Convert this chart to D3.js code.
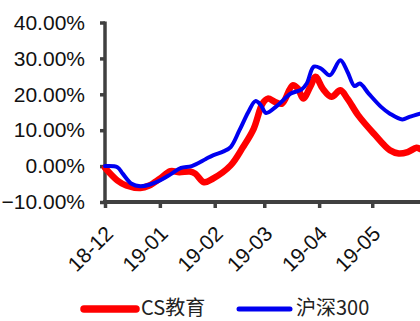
<!DOCTYPE html>
<html><head><meta charset="utf-8">
<script src="https://cdn.jsdelivr.net/npm/d3@7"></script>
<style>html,body{margin:0;padding:0;background:#fff;}svg{display:block;}</style>
</head><body>
<svg id="c" width="420" height="321"></svg>
<script>
const seriesNames = ["CS教育", "沪深300"];
const csDates = ["2018-12-01","2018-12-08","2018-12-13","2018-12-21","2018-12-26","2019-01-01","2019-01-07","2019-01-12","2019-01-18","2019-01-21","2019-01-26","2019-01-31","2019-02-10","2019-02-17","2019-02-23","2019-02-28","2019-03-03","2019-03-07","2019-03-11","2019-03-17","2019-03-20","2019-03-23","2019-03-27","2019-03-30","2019-04-03","2019-04-08","2019-04-13","2019-04-17","2019-04-23","2019-05-02","2019-05-11","2019-05-16","2019-05-21","2019-05-26","2019-05-28"];
const csValues = [-0.5,-4.0,-5.4,-6.1,-5.4,-3.5,-1.4,-1.7,-1.5,-2.1,-4.5,-3.5,0.2,5.3,10.4,17.4,18.8,17.9,17.4,22.5,21.6,18.8,22.1,24.9,21.6,19.3,21.1,18.8,14.2,9.0,4.4,3.5,3.9,5.1,4.8];
const hsDates = ["2018-12-01","2018-12-08","2018-12-11","2018-12-16","2018-12-21","2018-12-26","2019-01-01","2019-01-07","2019-01-13","2019-01-19","2019-01-27","2019-01-31","2019-02-06","2019-02-10","2019-02-15","2019-02-20","2019-02-24","2019-02-27","2019-03-02","2019-03-08","2019-03-16","2019-03-22","2019-03-25","2019-03-29","2019-04-02","2019-04-07","2019-04-13","2019-04-17","2019-04-21","2019-04-24","2019-04-29","2019-05-06","2019-05-11","2019-05-18","2019-05-22","2019-05-28"];
const hsValues = [0,-0.3,-2.1,-4.9,-5.6,-5.2,-4.0,-2.3,-0.5,0,2.0,3.0,4.1,5.3,10,15.1,18.1,17.0,14.8,16.7,20.2,21.3,23.0,27.7,27.2,25.3,29.5,26.3,22.3,23.0,20.2,16.5,14.6,13.0,13.7,14.6];
const yTicks = [-10,0,10,20,30,40];
const xTickDates = ["2018-12-01","2019-01-01","2019-02-01","2019-03-01","2019-04-01","2019-05-01"];

const parse = d3.timeParse("%Y-%m-%d");
const svg = d3.select("#c");
const x = d3.scaleTime().domain([parse("2018-12-01"), parse("2019-05-28")]).range([105, 420]);
const y = d3.scaleLinear().domain([-10, 40]).range([202, 22.5]);

const axisColor = "#404040";
// y axis
const yAxis = d3.axisLeft(y).tickValues(yTicks).tickSize(5).tickPadding(15)
  .tickFormat(d => d3.format(".2f")(d) + "%");
const gy = svg.append("g").attr("transform", "translate(105,0)").call(yAxis);
gy.select(".domain").attr("stroke", axisColor).attr("stroke-width", 3.5).attr("d", "M0," + (y(40)-1) + "V" + y(-10));
gy.selectAll(".tick line").attr("stroke", axisColor).attr("stroke-width", 3.5);
gy.selectAll(".tick text").attr("fill", "#111").style("font-family", "'Liberation Sans', Arial, sans-serif").style("font-size", "21px");

// x axis
const xAxis = d3.axisBottom(x).tickValues(xTickDates.map(parse)).tickSize(6)
  .tickFormat(d3.timeFormat("%y-%m"));
const gx = svg.append("g").attr("transform", "translate(0,202)").call(xAxis);
gx.select(".domain").attr("stroke", axisColor).attr("stroke-width", 4).attr("d", "M103,0H420");
gx.selectAll(".tick line").attr("stroke", axisColor).attr("stroke-width", 3.5);
gx.selectAll(".tick text").attr("fill", "#111")
  .style("font-family", "'Liberation Sans', Arial, sans-serif").style("font-size", "21px")
  .attr("text-anchor", "end").attr("dy", null).attr("y", 0)
  .attr("transform", "translate(9,33) rotate(-45)");

// lines
const line = d3.line().x(d => x(d[0])).y(d => y(d[1])).curve(d3.curveCatmullRom.alpha(0.5));
const csData = csDates.map((d, i) => [parse(d), csValues[i]]);
const hsData = hsDates.map((d, i) => [parse(d), hsValues[i]]);
svg.append("path").datum(csData).attr("d", line).attr("fill", "none").attr("stroke", "#FF0000")
  .attr("stroke-width", 6.5).attr("stroke-linejoin", "round").attr("stroke-linecap", "round");
svg.append("path").datum(hsData).attr("d", line).attr("fill", "none").attr("stroke", "#0000F0")
  .attr("stroke-width", 4).attr("stroke-linejoin", "round").attr("stroke-linecap", "round");

// legend
const legend = [
  {name: seriesNames[0], color: "#FF0000", w: 7.5, x1: 84, x2: 136, tx: 141},
  {name: seriesNames[1], color: "#0000F0", w: 5, x1: 239, x2: 290, tx: 296}
];
const lg = svg.append("g");
legend.forEach(l => {
  lg.append("line").attr("x1", l.x1).attr("x2", l.x2).attr("y1", 309).attr("y2", 309)
    .attr("stroke", l.color).attr("stroke-width", l.w).attr("stroke-linecap", "round");
  lg.append("text").attr("x", l.tx).attr("y", 315).text(l.name)
    .style("font-family", "'Noto Sans CJK SC', sans-serif").style("font-size", "20px").attr("fill", "#222");
});
</script>
</body></html>
